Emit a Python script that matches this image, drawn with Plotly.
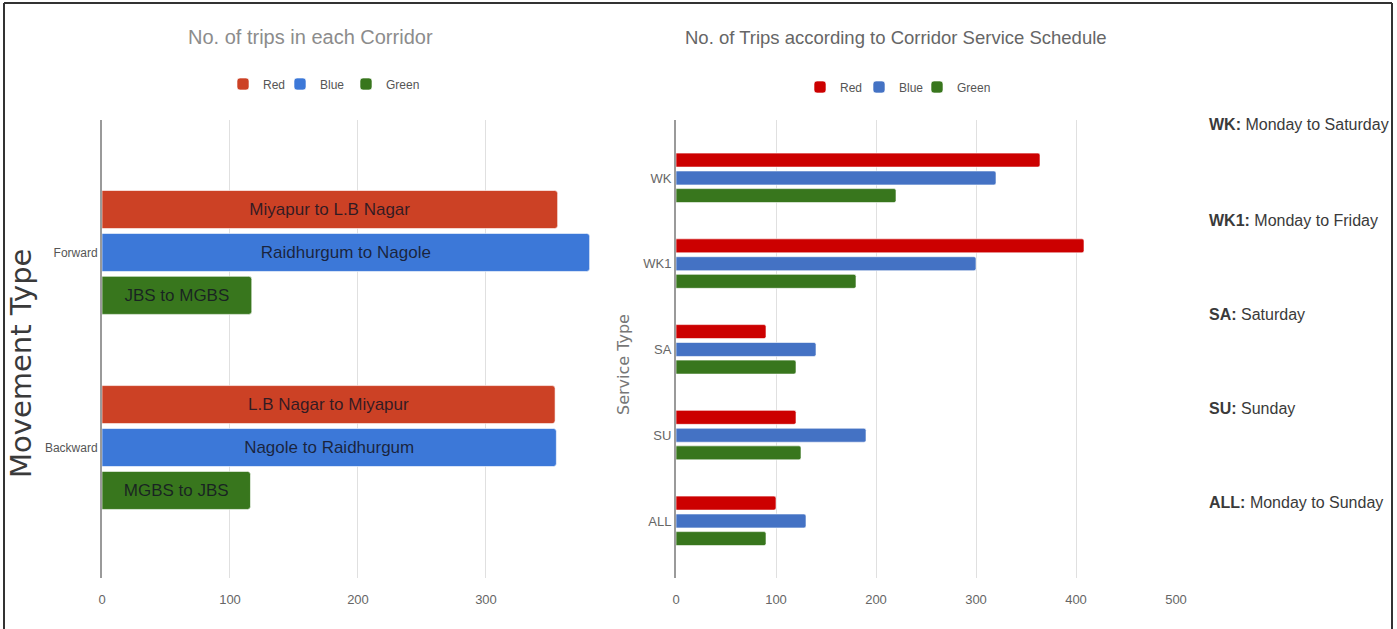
import plotly.graph_objects as go

W, H = 1397, 629

# ---------------- data ----------------
movement_types = ["Forward", "Backward"]
corridor_series = ["Red", "Blue", "Green"]
corridor_trips = {
    "Red": [356, 354],
    "Blue": [381, 355],
    "Green": [117, 116],
}
corridor_routes = {
    "Red": ["Miyapur to L.B Nagar", "L.B Nagar to Miyapur"],
    "Blue": ["Raidhurgum to Nagole", "Nagole to Raidhurgum"],
    "Green": ["JBS to MGBS", "MGBS to JBS"],
}

service_types = ["WK", "WK1", "SA", "SU", "ALL"]
schedule_trips = {
    "Red": [364, 408, 90, 120, 100],
    "Blue": [320, 300, 140, 190, 130],
    "Green": [220, 180, 120, 125, 90],
}
service_defs = [
    ("WK:", "Monday to Saturday"),
    ("WK1:", "Monday to Friday"),
    ("SA:", "Saturday"),
    ("SU:", "Sunday"),
    ("ALL:", "Monday to Sunday"),
]
left_ticks = [0, 100, 200, 300]
right_ticks = [0, 100, 200, 300, 400, 500]

# ---------------- styles ----------------
left_colors = {"Red": "#CC4125", "Blue": "#3C78D8", "Green": "#38761D"}
right_colors = {"Red": "#CC0000", "Blue": "#4472C4", "Green": "#38761D"}
left_offsets = {"Red": -0.3175, "Blue": -0.0975, "Green": 0.1225}
left_width = 0.195
right_offsets = {"Red": -0.29, "Blue": -0.0815, "Green": 0.124}
right_width = 0.163
# legend swatch centre positions (px) and legend rows (px)
left_legend_px = {"Red": 241, "Blue": 298, "Green": 364}
right_legend_px = {"Red": 818, "Blue": 877, "Green": 935}
left_legend_row, right_legend_row = 84, 87

SANS = "Liberation Sans, Arial, sans-serif"


def px_x(p):
    return p / W


def px_y(p):
    return 1 - p / H


fig = go.Figure()
legend_layouts = {}
n = 0

for s in corridor_series:
    n += 1
    lname = "legend" if n == 1 else f"legend{n}"
    fig.add_trace(go.Bar(
        y=movement_types, x=corridor_trips[s], orientation="h", name=s,
        marker=dict(color=left_colors[s], line=dict(color="rgba(255,255,255,0.6)", width=1),
                    cornerradius=3),
        width=left_width, offset=left_offsets[s],
        text=corridor_routes[s], textposition="inside", insidetextanchor="middle",
        textfont=dict(family=SANS, size=17, color="rgba(20,20,35,0.85)"),
        xaxis="x", yaxis="y", legend=lname, hoverinfo="x+y",
    ))
    legend_layouts[lname] = dict(
        x=px_x(left_legend_px[s] - 18), y=px_y(left_legend_row), xanchor="left", yanchor="middle",
        orientation="h", itemwidth=30, bgcolor="rgba(0,0,0,0)",
        font=dict(family=SANS, size=12, color="#555555"))

for s in corridor_series:
    n += 1
    lname = f"legend{n}"
    fig.add_trace(go.Bar(
        y=service_types, x=schedule_trips[s], orientation="h", name=s,
        marker=dict(color=right_colors[s], line=dict(color="rgba(255,255,255,0.6)", width=1),
                    cornerradius=2),
        width=right_width, offset=right_offsets[s],
        xaxis="x2", yaxis="y2", legend=lname, hoverinfo="x+y",
    ))
    legend_layouts[lname] = dict(
        x=px_x(right_legend_px[s] - 18), y=px_y(right_legend_row), xanchor="left", yanchor="middle",
        orientation="h", itemwidth=30, bgcolor="rgba(0,0,0,0)",
        font=dict(family=SANS, size=12, color="#555555"))

grid = "#e0e0e0"
tickfont_x = dict(family=SANS, size=13, color="#666666")

fig.update_layout(
    width=W, height=H,
    margin=dict(l=0, r=0, t=0, b=0),
    paper_bgcolor="white", plot_bgcolor="white",
    barmode="overlay",
    showlegend=True,
    xaxis=dict(domain=[px_x(102), px_x(605)], range=[0, 393], tickvals=left_ticks,
               showgrid=True, gridcolor=grid, gridwidth=1, zeroline=False,
               showline=False, ticks="", tickfont=tickfont_x, ticklabelstandoff=12,
               anchor="y", automargin=False),
    yaxis=dict(domain=[px_y(578), px_y(120)], range=[1.669, -0.679], type="category",
               categoryorder="array", categoryarray=movement_types,
               showgrid=False, zeroline=False, showline=True, linecolor="#9a9a9a", linewidth=2,
               ticks="", tickfont=dict(family=SANS, size=12, color="#555555"),
               anchor="x", automargin=False),
    xaxis2=dict(domain=[px_x(676), px_x(1176)], range=[0, 500], tickvals=right_ticks,
                showgrid=True, gridcolor=grid, gridwidth=1, zeroline=False,
                showline=False, ticks="", tickfont=tickfont_x, ticklabelstandoff=12,
                anchor="y2", automargin=False),
    yaxis2=dict(domain=[px_y(578), px_y(120)], range=[4.665, -0.676], type="category",
                categoryorder="array", categoryarray=service_types,
                showgrid=False, zeroline=False, showline=True, linecolor="#9a9a9a", linewidth=2,
                ticks="", tickfont=dict(family=SANS, size=13, color="#666666"),
                anchor="x2", automargin=False),
    **legend_layouts,
)

annotations = [
    dict(text="No. of trips in each Corridor", x=px_x(310), y=px_y(37), xref="paper", yref="paper",
         showarrow=False, xanchor="center", yanchor="middle",
         font=dict(family=SANS, size=20, color="#8c8c8c")),
    dict(text="No. of Trips according to Corridor Service Schedule", x=px_x(896), y=px_y(37),
         xref="paper", yref="paper", showarrow=False, xanchor="center", yanchor="middle",
         font=dict(family=SANS, size=18.5, color="#666666")),
    dict(text="Movement Type", x=px_x(21), y=px_y(364), xref="paper", yref="paper",
         showarrow=False, textangle=-90, xanchor="center", yanchor="middle",
         font=dict(family="DejaVu Sans, sans-serif", size=29, color="#3a3a3a")),
    dict(text="Service Type", x=px_x(623), y=px_y(365), xref="paper", yref="paper",
         showarrow=False, textangle=-90, xanchor="center", yanchor="middle",
         font=dict(family="DejaVu Sans, sans-serif", size=16, color="#777777")),
]
def_ys = [125, 220, 315, 408, 502]
for (abbr, desc), yy in zip(service_defs, def_ys):
    annotations.append(dict(
        text=f"<b>{abbr}</b> {desc}", x=px_x(1207), y=px_y(yy), xref="paper", yref="paper",
        showarrow=False, xanchor="left", yanchor="middle",
        font=dict(family=SANS, size=16, color="#3a3a3a")))
fig.update_layout(annotations=annotations)

border = dict(color="#333333", width=2)
fig.update_layout(shapes=[
    dict(type="line", xref="paper", yref="paper", x0=px_x(4), x1=px_x(4), y0=px_y(3), y1=px_y(629), line=border),
    dict(type="line", xref="paper", yref="paper", x0=px_x(4), x1=px_x(1392), y0=px_y(3), y1=px_y(3), line=border),
    dict(type="line", xref="paper", yref="paper", x0=px_x(1392), x1=px_x(1392), y0=px_y(3), y1=px_y(629), line=border),
])

fig.write_html("out.html")
